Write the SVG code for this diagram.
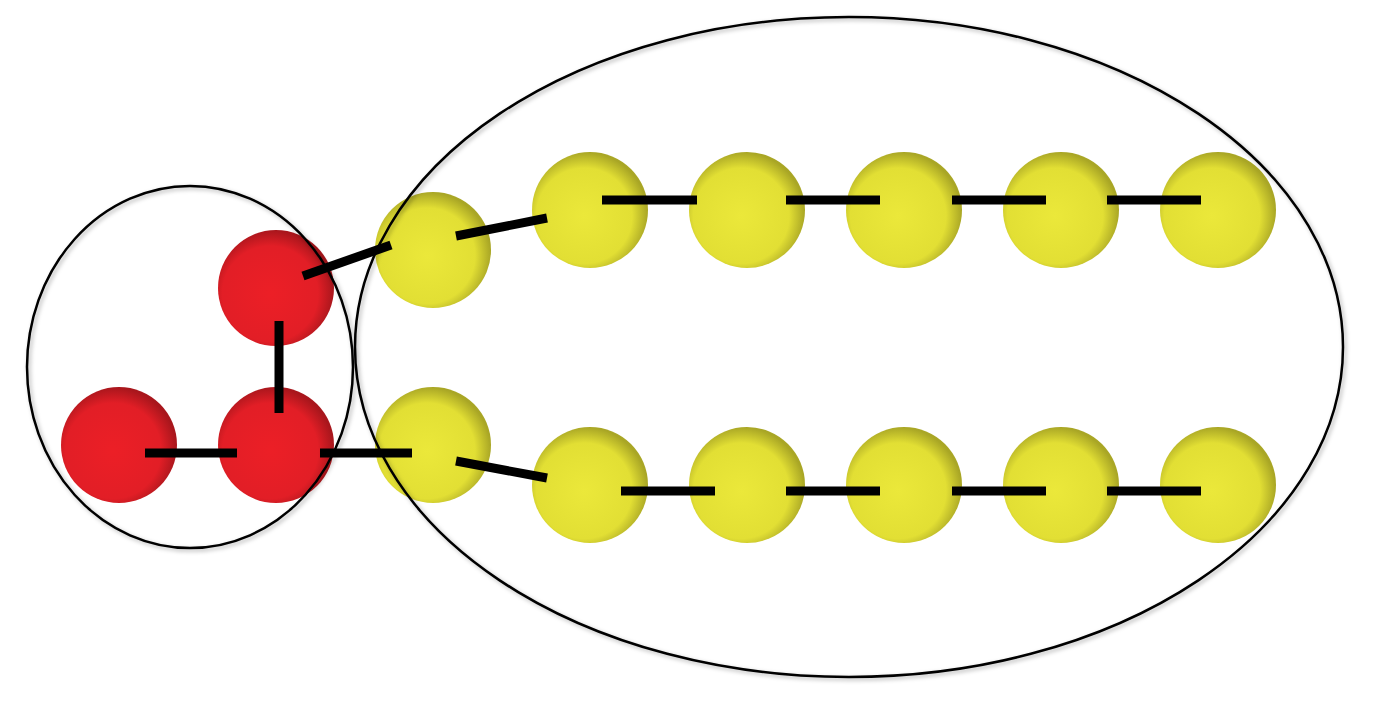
<svg xmlns="http://www.w3.org/2000/svg" width="1373" height="706" viewBox="0 0 1373 706">
<defs>
<radialGradient id="rg" cx="0.45" cy="0.55" r="0.55"><stop offset="0" stop-color="#ec1f26"/><stop offset="0.75" stop-color="#e21e26"/><stop offset="1" stop-color="#a8161c"/></radialGradient>
<radialGradient id="yg" cx="0.45" cy="0.55" r="0.55"><stop offset="0" stop-color="#ebe83a"/><stop offset="0.75" stop-color="#e2df34"/><stop offset="1" stop-color="#a9a625"/></radialGradient>
<filter id="sh" x="-10%" y="-10%" width="120%" height="120%"><feDropShadow dx="2" dy="2" stdDeviation="2" flood-opacity="0.3"/></filter>
</defs>
<style>.r{fill:url(#rg)}.y{fill:url(#yg)}.b{stroke:#000;stroke-width:9;fill:none}.e{fill:none;stroke:#000;stroke-width:2.5;filter:url(#sh)}</style>
<rect width="1373" height="706" fill="#fff"/>
<g id="red1"><circle class="r" cx="119" cy="445" r="58"/></g>
<g id="red2"><circle class="r" cx="276" cy="445" r="58"/></g>
<g id="red3"><circle class="r" cx="276" cy="288" r="58"/></g>
<g id="y1"><circle class="y" cx="433" cy="250" r="58"/></g>
<g id="y2"><circle class="y" cx="433" cy="445" r="58"/></g>
<g id="yt1"><circle class="y" cx="590" cy="210" r="58"/></g>
<g id="yt2"><circle class="y" cx="747" cy="210" r="58"/></g>
<g id="yt3"><circle class="y" cx="904" cy="210" r="58"/></g>
<g id="yt4"><circle class="y" cx="1061" cy="210" r="58"/></g>
<g id="yt5"><circle class="y" cx="1218" cy="210" r="58"/></g>
<g id="yb1"><circle class="y" cx="590" cy="485" r="58"/></g>
<g id="yb2"><circle class="y" cx="747" cy="485" r="58"/></g>
<g id="yb3"><circle class="y" cx="904" cy="485" r="58"/></g>
<g id="yb4"><circle class="y" cx="1061" cy="485" r="58"/></g>
<g id="yb5"><circle class="y" cx="1218" cy="485" r="58"/></g>
<g id="head"><ellipse class="e" cx="190" cy="367" rx="163" ry="181"/></g>
<g id="tail"><ellipse class="e" cx="849" cy="347" rx="494" ry="330"/></g>
<g id="connectors" class="b">
<line x1="145" y1="453" x2="237" y2="453"/>
<line x1="320" y1="453" x2="412" y2="453"/>
<line x1="279" y1="321" x2="279" y2="413"/>
<line x1="303" y1="276" x2="391" y2="245"/>
<line x1="456" y1="236" x2="547" y2="218"/>
<line x1="456" y1="461" x2="547" y2="478"/>
<line x1="602" y1="200" x2="697" y2="200"/>
<line x1="786" y1="200" x2="880" y2="200"/>
<line x1="952" y1="200" x2="1046" y2="200"/>
<line x1="1107" y1="200" x2="1201" y2="200"/>
<line x1="621" y1="491" x2="715" y2="491"/>
<line x1="786" y1="491" x2="880" y2="491"/>
<line x1="952" y1="491" x2="1046" y2="491"/>
<line x1="1107" y1="491" x2="1201" y2="491"/>
</g>
</svg>
